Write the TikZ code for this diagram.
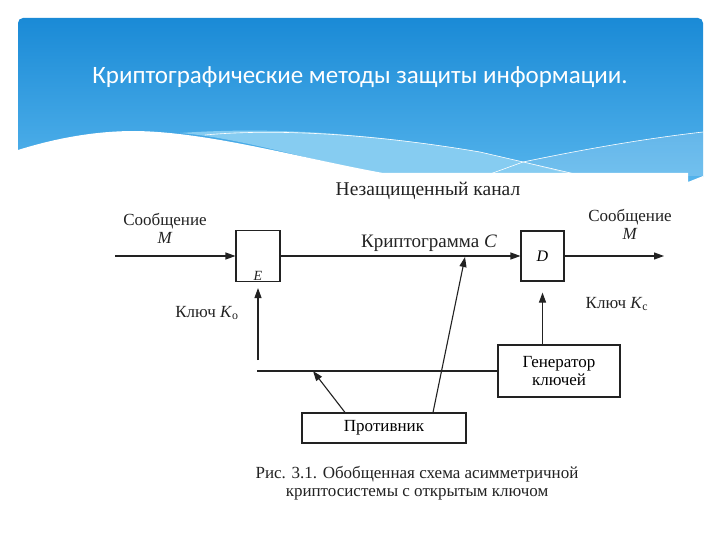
\documentclass[tikz,border=0pt]{standalone}
\usepackage{fontspec}
\setmainfont{Liberation Serif}
\newfontfamily\titlefont{Carlito}
\usetikzlibrary{positioning, arrows.meta}
\definecolor{bnrtop}{HTML}{1A8AD6}
\definecolor{bnrbot}{HTML}{55B4EC}
\definecolor{bnrlight}{HTML}{86CCF1}
\definecolor{ink}{HTML}{222222}

\begin{document}
\begin{tikzpicture}[x=1pt, y=-1pt,
    blk/.style={rectangle, draw=ink, line width=1.1pt, fill=white, inner sep=2pt, align=center, font=\fontsize{17}{18}\selectfont},
    lbl/.style={text=ink, align=center, inner sep=0pt, font=\fontsize{17}{18}\selectfont},
    ln/.style={draw=ink, line width=1.1pt},
    arr/.style={ln, -{Triangle[length=10pt, width=7pt]}},
]
\useasboundingbox (0,0) rectangle (720,540);
% banner
\shade[top color=bnrtop, bottom color=bnrbot, rounded corners=5pt] (18,182) -- (18,18) -- (703,18) -- (703,182) -- cycle;
\fill[bnrlight] (180,133) .. controls (280,126) and (380,135) .. (480,152) -- (575,174) -- (383,174) .. controls (300,158) and (240,138) .. cycle;
\fill[white, opacity=0.18] (523,162) .. controls (590,148) and (650,138) .. (703,132) -- (703,176) -- (575,176) -- cycle;
\draw[white, line width=0.6pt] (205,135) .. controls (280,128) and (380,135) .. (480,152) -- (575,174);
\draw[white, line width=0.6pt] (490,174) -- (523,162) .. controls (590,148) and (650,138) .. (703,132);
\fill[white] (18,150) .. controls (50,140) and (90,131) .. (135,131) .. controls (210,132) and (300,158) .. (383,173) -- (688,173) -- (688,182) -- (703,176) -- (703,540) -- (0,540) -- (0,150) -- cycle;
\node[text=white, font=\titlefont\fontsize{25}{28}\selectfont] (title) at (360,77) {Криптографические методы защиты информации.};

% blocks
\node[blk, minimum width=44, minimum height=51] (enc) at (258,256) {};
\node[lbl, font=\fontsize{14}{15}\selectfont\itshape, above=1pt of enc.south] (elbl) {E};
\node[blk, minimum width=43, minimum height=50, font=\fontsize{16}{18}\selectfont] (dec) at (542.5,256) {\textit{D}};
\node[blk, minimum width=122, minimum height=52] (gen) at (559,371) {Генератор\\ключей};
\node[blk, minimum width=164, minimum height=30] (eve) at (384,428) {Противник};

\coordinate (min) at (115,256);
\coordinate (mout) at (664,256);
\coordinate (ke) at (258,360);
\coordinate (kl) at (257,371);
\coordinate (tap) at (313,371);
\coordinate (ch) at (465,257);

\draw[arr] (min) -- (enc.west);
\draw[arr] (enc.east) -- (dec.west);
\draw[arr] (dec.east) -- (mout);
\draw[arr, shorten >=6pt] (ke) -- (enc.south);
\draw[arr, shorten >=11pt] (dec.south |- gen.north) -- (dec.south);
\draw[ln] (gen.west) -- (kl);
\draw[arr] ([xshift=-39pt]eve.north) -- (tap);
\draw[arr] ([xshift=49pt]eve.north) -- (ch);

% labels
\node[lbl, font=\fontsize{19.5}{20}\selectfont] (chan) at (428,191) {Незащищенный канал};
\node[lbl, font=\fontsize{19}{20}\selectfont] (crypt) at (429,243) {Криптограмма \textit{C}};
\node[lbl] (msgin) at (165,228) {Сообщение\\\textit{M}};
\node[lbl] (msgout) at (630,224) {Сообщение\\\textit{M}};
\node[lbl] (keyo) at (207,313) {Ключ \textit{K}\textsubscript{о}};
\node[lbl] (keyc) at (617,304) {Ключ \textit{K}\textsubscript{с}};
\node[lbl] (caption) at (417,483) {Рис. 3.1. Обобщенная схема асимметричной\\криптосистемы с открытым ключом};
\end{tikzpicture}
\end{document}
